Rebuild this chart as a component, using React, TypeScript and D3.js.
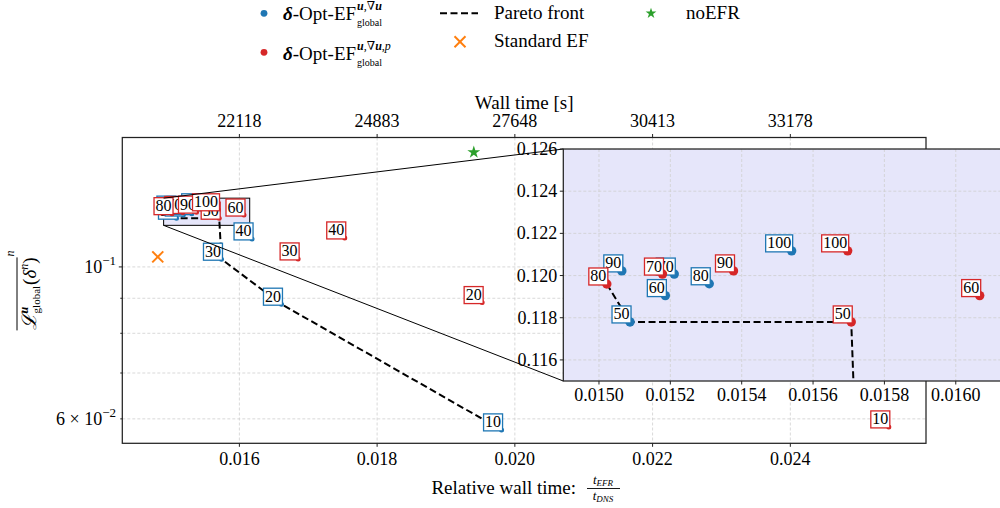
import React, { useLayoutEffect, useRef, useState } from 'react';
import * as d3 from 'd3';

const FONT = "'Liberation Serif','DejaVu Serif',serif";
const BLUE = '#1f77b4';
const RED = '#d62728';
const ORANGE = '#ff7f0e';
const GREEN = '#2ca02c';
const LAVENDER = '#e6e6fa';

// ---------------- data ----------------
const filterN = [10, 20, 30, 40, 50, 60, 70, 80, 90, 100];
const blueTime = [0.019807, 0.016611, 0.01574, 0.016184, 0.015087, 0.015186, 0.015211, 0.015309, 0.015064, 0.01554];
const blueLoss = [0.05782, 0.08822, 0.10262, 0.10987, 0.1178, 0.11905, 0.12007, 0.11961, 0.12022, 0.12117];
const redTime = [0.02543, 0.019525, 0.016853, 0.01753, 0.015707, 0.016067, 0.015178, 0.015022, 0.015377, 0.015697];
const redLoss = [0.0584, 0.0887, 0.10272, 0.11023, 0.1178, 0.11905, 0.12007, 0.1196, 0.12022, 0.12117];
const stdEFTime = [0.014815];
const stdEFLoss = [0.10342];
const noEFRTime = [0.019404];
const noEFRLoss = [0.14703];
const paretoSeries = ['red', 'blue', 'red', 'blue', 'blue', 'blue'];
const paretoFilter = [80, 50, 50, 30, 20, 10];

const xTicksMain = [0.016, 0.018, 0.02, 0.022, 0.024];
const T_DNS = 1382400;
const yGridMain = [0.06, 0.07, 0.08, 0.09, 0.1];
const xTicksInset = [0.015, 0.0152, 0.0154, 0.0156, 0.0158, 0.016];
const yTicksInset = [0.116, 0.118, 0.12, 0.122, 0.124, 0.126];

// ---------------- scales ----------------
const ML = 122.3, MR = 926, MT = 137.5, MB = 443.3;
const xMain = d3.scaleLinear().domain([0.0143, 0.02597]).range([ML, MR]);
const yMain = d3.scaleLog().domain([0.05527, 0.1545]).range([MB, MT]);
const IL = 563.3, IR = 1009.3, IT = 149, IB = 381;
const xIn = d3.scaleLinear().domain([0.0149, 0.01615]).range([IL, IR]);
const yIn = d3.scaleLinear().domain([0.115, 0.126]).range([IB, IT]);

type Seg = { t: string; size: number; dy?: number; italic?: boolean; bold?: boolean; at?: number; gap?: number };

function Rich({ x, y, segs, anchor = 'start', rotate = 0, overline }: {
  x: number; y: number; segs: Seg[]; anchor?: string; rotate?: number;
  overline?: { from: number; to: number; y: number };
}) {
  const refs = useRef<(SVGTextElement | null)[]>([]);
  const [layout, setLayout] = useState<{ xs: number[]; ends: number[]; total: number } | null>(null);
  useLayoutEffect(() => {
    const w = segs.map((_, i) => (refs.current[i] ? refs.current[i]!.getComputedTextLength() : 0));
    const xs: number[] = [];
    const ends: number[] = [];
    let cur = 0;
    segs.forEach((s, i) => {
      const start = s.at !== undefined ? xs[s.at] : cur + (s.gap ?? 0);
      xs.push(start);
      ends.push(start + w[i]);
      cur = Math.max(cur, start + w[i]);
    });
    setLayout({ xs, ends, total: cur });
  }, []);
  const off = layout ? (anchor === 'middle' ? -layout.total / 2 : anchor === 'end' ? -layout.total : 0) : 0;
  return (
    <g transform={`translate(${x},${y})${rotate ? ` rotate(${rotate})` : ''}`} visibility={layout ? 'visible' : 'hidden'}>
      {segs.map((s, i) => (
        <text
          key={i}
          ref={(el) => { refs.current[i] = el; }}
          x={(layout ? layout.xs[i] : 0) + off}
          y={s.dy ?? 0}
          fontSize={s.size}
          fontStyle={s.italic ? 'italic' : 'normal'}
          fontWeight={s.bold ? 'bold' : 'normal'}
          fontFamily={FONT}
          fill="#000"
        >{s.t}</text>
      ))}
      {overline && layout && (
        <line x1={off + layout.xs[overline.from]} x2={off + layout.ends[overline.to]} y1={overline.y} y2={overline.y} stroke="#000" strokeWidth={1} />
      )}
    </g>
  );
}

function LabelBox({ x, y, n, color }: { x: number; y: number; n: number; color: string }) {
  const s = String(n);
  const tw = s.length * 8;
  const w = tw + 3;
  const h = 17;
  const rx = x + 1 - w;
  const ry = y + 1 - h;
  return (
    <g>
      <rect x={rx} y={ry} width={w} height={h} fill="#fff" stroke={color} strokeWidth={1.3} />
      <text x={rx + w / 2} y={ry + h - 3.5} textAnchor="middle" fontSize={16} fontFamily={FONT} fill="#000">{s}</text>
    </g>
  );
}

function XMark({ cx, cy, r, color, w = 2 }: { cx: number; cy: number; r: number; color: string; w?: number }) {
  return (
    <g stroke={color} strokeWidth={w}>
      <line x1={cx - r} y1={cy - r} x2={cx + r} y2={cy + r} />
      <line x1={cx - r} y1={cy + r} x2={cx + r} y2={cy - r} />
    </g>
  );
}

const starPath = (size: number) => d3.symbol(d3.symbolStar, size)() as string;

type Pt = { t: number; l: number; n: number };
const blue: Pt[] = filterN.map((n, i) => ({ t: blueTime[i], l: blueLoss[i], n }));
const red: Pt[] = filterN.map((n, i) => ({ t: redTime[i], l: redLoss[i], n }));
const pareto: Pt[] = paretoSeries.map((s, i) => {
  const arr = s === 'red' ? red : blue;
  return arr.find((p) => p.n === paretoFilter[i])!;
});

export default function App() {
  const lineMain = d3.line<Pt>().x((p) => xMain(p.t)).y((p) => yMain(p.l));
  const lineIn = d3.line<Pt>().x((p) => xIn(p.t)).y((p) => yIn(p.l));
  const gridStyle = { stroke: '#cfcfcf', strokeWidth: 0.8, strokeDasharray: '3,2' };

  const rx0 = xMain(0.0149), rx1 = xMain(0.01615), ry0 = yMain(0.126), ry1 = yMain(0.115);

  return (
    <svg width={1000} height={508} style={{ position: 'absolute', left: 0, top: 0, background: '#fff' }} fontFamily={FONT}>
      <defs>
        <clipPath id="clipMain"><rect x={ML} y={MT} width={MR - ML} height={MB - MT} /></clipPath>
        <clipPath id="clipIn"><rect x={IL} y={IT} width={IR - IL} height={IB - IT} /></clipPath>
      </defs>
      <rect x={0} y={0} width={1000} height={508} fill="#fff" />

      {/* ---------- main axes ---------- */}
      <g clipPath="url(#clipMain)">
        {xTicksMain.map((v) => (
          <line key={'gx' + v} x1={xMain(v)} x2={xMain(v)} y1={MT} y2={MB} {...gridStyle} />
        ))}
        {yGridMain.map((v) => (
          <line key={'gy' + v} x1={ML} x2={MR} y1={yMain(v)} y2={yMain(v)} {...gridStyle} />
        ))}
        {/* indicator rectangle */}
        <rect x={rx0} y={ry0} width={rx1 - rx0} height={ry1 - ry0} fill={LAVENDER} stroke="#000" strokeWidth={1} />
        <path d={lineMain(pareto) || ''} fill="none" stroke="#000" strokeWidth={2} strokeDasharray="7,3.5" />
        {blue.map((p) => <circle key={'bm' + p.n} cx={xMain(p.t)} cy={yMain(p.l)} r={2.5} fill={BLUE} />)}
        {blue.map((p) => <LabelBox key={'bl' + p.n} x={xMain(p.t)} y={yMain(p.l)} n={p.n} color={BLUE} />)}
        {red.map((p) => <circle key={'rm' + p.n} cx={xMain(p.t)} cy={yMain(p.l)} r={2.5} fill={RED} />)}
        {red.map((p) => <LabelBox key={'rl' + p.n} x={xMain(p.t)} y={yMain(p.l)} n={p.n} color={RED} />)}
        {stdEFTime.map((t, i) => <XMark key={'sx' + i} cx={xMain(t)} cy={yMain(stdEFLoss[i])} r={5.5} color={ORANGE} />)}
        {noEFRTime.map((t, i) => (
          <path key={'ns' + i} d={starPath(52)} transform={`translate(${xMain(t)},${yMain(noEFRLoss[i])})`} fill={GREEN} />
        ))}
      </g>
      {/* connector lines */}
      <line x1={rx0} y1={ry0} x2={IL} y2={IT} stroke="#000" strokeWidth={1} />
      <line x1={rx0} y1={ry1} x2={IL} y2={IB} stroke="#000" strokeWidth={1} />

      {/* main spines */}
      <rect x={ML} y={MT} width={MR - ML} height={MB - MT} fill="none" stroke="#222" strokeWidth={1.25} />
      {/* bottom ticks */}
      {xTicksMain.map((v) => (
        <g key={'bt' + v}>
          <line x1={xMain(v)} x2={xMain(v)} y1={MB} y2={MB + 3.5} stroke="#222" strokeWidth={1} />
          <text x={xMain(v)} y={465} textAnchor="middle" fontSize={18}>{v.toFixed(3)}</text>
          <line x1={xMain(v)} x2={xMain(v)} y1={MT} y2={MT - 3.5} stroke="#222" strokeWidth={1} />
          <text x={xMain(v)} y={127} textAnchor="middle" fontSize={18}>{String(Math.round(v * T_DNS))}</text>
        </g>
      ))}
      {/* y ticks */}
      {yGridMain.map((v) => (
        <line key={'yt' + v} x1={ML} x2={ML - (v === 0.1 ? 3.5 : 2)} y1={yMain(v)} y2={yMain(v)} stroke="#222" strokeWidth={1} />
      ))}
      <Rich x={116} y={yMain(0.1) + 6} anchor="end" segs={[
        { t: '10', size: 18 },
        { t: '\u22121', size: 13, dy: -8 },
      ]} />
      <Rich x={116} y={yMain(0.06) + 6} anchor="end" segs={[
        { t: '6 \u00d7 10', size: 18 },
        { t: '\u22122', size: 13, dy: -8 },
      ]} />

      {/* axis labels */}
      <text x={(ML + MR) / 2} y={109} textAnchor="middle" fontSize={19}>Wall time [s]</text>
      <text x={576} y={494} textAnchor="end" fontSize={19}>Relative wall time:</text>
      <Rich x={603} y={484} anchor="middle" segs={[
        { t: 't', size: 13, italic: true },
        { t: 'EFR', size: 9, italic: true, dy: 2 },
      ]} />
      <line x1={587} x2={620} y1={488.5} y2={488.5} stroke="#000" strokeWidth={0.9} />
      <Rich x={603} y={500} anchor="middle" segs={[
        { t: 't', size: 13, italic: true },
        { t: 'DNS', size: 9, italic: true, dy: 2 },
      ]} />
      <Rich x={36} y={(MT + MB) / 2} rotate={-90} anchor="middle" overline={{ from: 0, to: 6, y: -19 }} segs={[
        { t: '\u2112', size: 20, italic: true },
        { t: 'u', size: 12, bold: true, italic: true, dy: -8 },
        { t: 'global', size: 11, dy: 4, at: 1 },
        { t: '(', size: 19, gap: 1 },
        { t: '\u03b4', size: 19, italic: true },
        { t: 'n', size: 12, italic: true, dy: -8 },
        { t: ')', size: 19 },
        { t: 'n', size: 12, italic: true, dy: -22, gap: 1 },
      ]} />

      {/* ---------- inset ---------- */}
      <rect x={IL} y={IT} width={IR - IL} height={IB - IT} fill={LAVENDER} />
      <g clipPath="url(#clipIn)">
        {xTicksInset.map((v) => (
          <line key={'igx' + v} x1={xIn(v)} x2={xIn(v)} y1={IT} y2={IB} {...gridStyle} />
        ))}
        {yTicksInset.map((v) => (
          <line key={'igy' + v} x1={IL} x2={IR} y1={yIn(v)} y2={yIn(v)} {...gridStyle} />
        ))}
        <path d={lineIn(pareto) || ''} fill="none" stroke="#000" strokeWidth={2} strokeDasharray="7,3.5" />
        {blue.map((p) => <circle key={'ibm' + p.n} cx={xIn(p.t)} cy={yIn(p.l)} r={4.7} fill={BLUE} />)}
        {blue.map((p) => <LabelBox key={'ibl' + p.n} x={xIn(p.t)} y={yIn(p.l)} n={p.n} color={BLUE} />)}
        {red.map((p) => <circle key={'irm' + p.n} cx={xIn(p.t)} cy={yIn(p.l)} r={4.7} fill={RED} />)}
        {red.map((p) => <LabelBox key={'irl' + p.n} x={xIn(p.t)} y={yIn(p.l)} n={p.n} color={RED} />)}
      </g>
      <rect x={IL} y={IT} width={IR - IL} height={IB - IT} fill="none" stroke="#222" strokeWidth={1.25} />
      {xTicksInset.map((v) => (
        <g key={'ixt' + v}>
          <line x1={xIn(v)} x2={xIn(v)} y1={IB} y2={IB + 3.5} stroke="#222" strokeWidth={1} />
          <text x={xIn(v)} y={401} textAnchor="middle" fontSize={18}>{v.toFixed(4)}</text>
        </g>
      ))}
      {yTicksInset.map((v) => (
        <g key={'iyt' + v}>
          <line x1={IL} x2={IL - 3.5} y1={yIn(v)} y2={yIn(v)} stroke="#222" strokeWidth={1} />
          <text x={IL - 6} y={yIn(v) + 6} textAnchor="end" fontSize={18}>{v.toFixed(3)}</text>
        </g>
      ))}

      {/* ---------- legend ---------- */}
      <circle cx={264} cy={13.3} r={3.4} fill={BLUE} />
      <Rich x={283} y={20} segs={[
        { t: '\u03b4', size: 19, bold: true, italic: true },
        { t: '-Opt-EF', size: 19 },
        { t: 'u', size: 12, bold: true, italic: true, dy: -10, gap: 1 },
        { t: ',\u2207', size: 12, dy: -10 },
        { t: 'u', size: 12, bold: true, italic: true, dy: -10 },
        { t: 'global', size: 10, dy: 6, at: 2 },
      ]} />
      <circle cx={264} cy={52.3} r={3.4} fill={RED} />
      <Rich x={283} y={59.5} segs={[
        { t: '\u03b4', size: 19, bold: true, italic: true },
        { t: '-Opt-EF', size: 19 },
        { t: 'u', size: 12, bold: true, italic: true, dy: -10, gap: 1 },
        { t: ',\u2207', size: 12, dy: -10 },
        { t: 'u', size: 12, bold: true, italic: true, dy: -10 },
        { t: ',', size: 12, dy: -10 },
        { t: 'p', size: 12, italic: true, dy: -10 },
        { t: 'global', size: 10, dy: 6, at: 2 },
      ]} />
      <line x1={440} x2={478} y1={13.3} y2={13.3} stroke="#000" strokeWidth={2} strokeDasharray="7,3.5" />
      <text x={494} y={18.5} fontSize={19}>Pareto front</text>
      <XMark cx={460} cy={41.7} r={5.5} color={ORANGE} />
      <text x={494} y={47} fontSize={19}>Standard EF</text>
      <path d={starPath(36)} transform="translate(651,13.3)" fill={GREEN} />
      <text x={686} y={18.5} fontSize={19}>noEFR</text>
    </svg>
  );
}
